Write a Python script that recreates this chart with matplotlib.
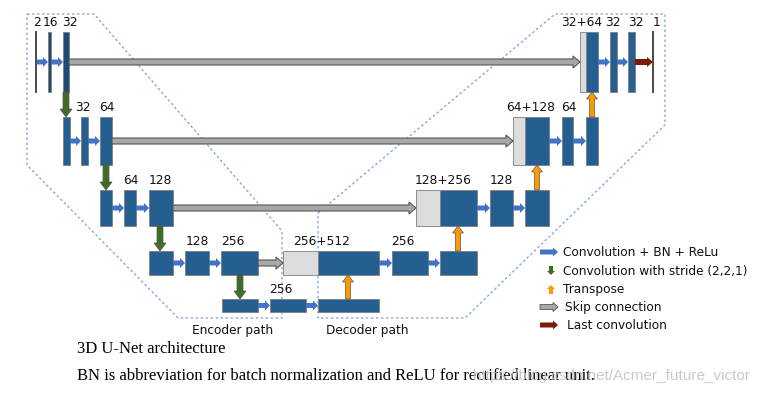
import matplotlib.pyplot as plt
from matplotlib.patches import Polygon, Rectangle

# layout in pixel units of the 758x411 picture (y grows downward)
row_top = [32, 117, 190, 251, 299]
row_bot = [92, 165, 226, 275, 312]

# (row, x0, x1)
dark_blocks = [(0, 48, 51), (0, 63, 69)]
blue_blocks = [(1, 63, 70), (1, 81, 88), (1, 100, 112),
               (2, 100, 112), (2, 124, 136), (2, 149, 173),
               (3, 149, 173), (3, 185, 209), (3, 221, 258),
               (4, 222, 258), (4, 270, 306), (4, 318, 379),
               (3, 318, 379), (3, 392, 428), (3, 440, 477),
               (2, 440, 477), (2, 490, 513), (2, 525, 549),
               (1, 525, 549), (1, 562, 573), (1, 586, 598),
               (0, 586, 598), (0, 610, 617), (0, 628, 635)]
concat_blocks = [(3, 283, 318), (2, 416, 440), (1, 513, 525), (0, 580, 586)]
thin_lines = [(0, 36), (0, 653)]

# channel labels: text, x centre, row
labels = [("2", 37, 0), ("16", 50, 0), ("32", 70, 0),
          ("32+64", 582, 0), ("32", 613, 0), ("32", 636, 0), ("1", 657, 0),
          ("32", 83, 1), ("64", 107, 1), ("64+128", 531, 1), ("64", 569, 1),
          ("64", 131, 2), ("128", 160, 2), ("128+256", 443, 2), ("128", 501, 2),
          ("128", 197, 3), ("256", 233, 3), ("256+512", 322, 3), ("256", 403, 3),
          ("256", 281, 4)]

# arrows: (row, x_from, x_to)
conv_arrows = [(0, 37, 48), (0, 51, 63), (0, 598, 610), (0, 617, 628),
               (1, 70, 81), (1, 88, 100), (1, 549, 562), (1, 573, 586),
               (2, 112, 124), (2, 136, 149), (2, 477, 490), (2, 513, 525),
               (3, 173, 185), (3, 209, 221), (3, 379, 392), (3, 428, 440),
               (4, 258, 270), (4, 306, 318)]
last_arrow = [(0, 635, 653)]
skip_arrows = [(0, 69, 580), (1, 112, 513), (2, 173, 416), (3, 258, 283)]
# vertical: (x, from row bottom -> next row top) / (x, row top -> previous row bottom)
down_arrows = [(66, 0), (106, 1), (160, 2), (240, 3)]
up_arrows = [(592, 1), (537, 2), (458, 3), (348, 4)]

legend_items = ["Convolution + BN + ReLu", "Convolution with stride (2,2,1)",
                "Transpose", "Skip connection", "Last convolution"]
legend_y = [252, 271, 289, 307, 325]

encoder_outline = [(27, 14), (94, 14), (282, 231), (282, 318), (178, 318), (27, 165)]
decoder_outline = [(318, 213), (555, 14), (665, 14), (665, 125), (465, 318), (318, 318)]

BLUE = "#255e91"
DARK = "#1f4c77"
LGRAY = "#dcdcdc"
C_CONV = "#4472c4"
C_DOWN = "#3f6b22"
C_UP = "#ff9900"
C_SKIP = "#a8a8a8"
C_LAST = "#7b1c00"


def harrow(ax, x0, x1, y, shaft, head_w, head_l, fc, ec="none", lw=0.6):
    pts = [(x0, y - shaft / 2), (x1 - head_l, y - shaft / 2), (x1 - head_l, y - head_w / 2),
           (x1, y), (x1 - head_l, y + head_w / 2), (x1 - head_l, y + shaft / 2), (x0, y + shaft / 2)]
    ax.add_patch(Polygon(pts, closed=True, fc=fc, ec=ec, lw=lw, zorder=4))


def varrow(ax, x, y0, y1, shaft, head_w, head_l, fc, ec="none", lw=0.6):
    s = 1 if y1 > y0 else -1
    pts = [(x - shaft / 2, y0), (x - shaft / 2, y1 - s * head_l), (x - head_w / 2, y1 - s * head_l),
           (x, y1), (x + head_w / 2, y1 - s * head_l), (x + shaft / 2, y1 - s * head_l), (x + shaft / 2, y0)]
    ax.add_patch(Polygon(pts, closed=True, fc=fc, ec=ec, lw=lw, zorder=4))


fig = plt.figure(figsize=(7.58, 4.11), dpi=100)
ax = fig.add_axes([0, 0, 1, 1])
ax.set_xlim(0, 758)
ax.set_ylim(411, 0)
ax.axis("off")

for outline in (encoder_outline, decoder_outline):
    ax.add_patch(Polygon(outline, closed=True, fill=False, ec="#7b9fdc", lw=0.9,
                         linestyle=(0, (2, 2)), zorder=1))


def block(r, x0, x1, color):
    ax.add_patch(Rectangle((x0, row_top[r]), x1 - x0, row_bot[r] - row_top[r],
                           fc=color, ec="#7f7f7f", lw=0.6, zorder=3))


for r, x0, x1 in dark_blocks:
    block(r, x0, x1, DARK)
for r, x0, x1 in blue_blocks:
    block(r, x0, x1, BLUE)
for r, x0, x1 in concat_blocks:
    block(r, x0, x1, LGRAY)
for r, x in thin_lines:
    ax.plot([x, x], [row_top[r], row_bot[r]], color="#4a4a4a", lw=1.4, zorder=3)

lab_font = dict(family="DejaVu Sans", fontsize=8.8, color="#111111", ha="center", va="center")
for txt, x, r in labels:
    ax.text(x, row_top[r] - 10, txt, **lab_font)

for r, x0, x1 in skip_arrows:
    y = (row_top[r] + row_bot[r]) / 2
    harrow(ax, x0, x1, y, 6, 12, 7, C_SKIP, ec="#555555", lw=0.8)
for r, x0, x1 in conv_arrows:
    y = (row_top[r] + row_bot[r]) / 2
    harrow(ax, x0, x1, y, 5, 10, 5, C_CONV)
for r, x0, x1 in last_arrow:
    y = (row_top[r] + row_bot[r]) / 2
    harrow(ax, x0, x1, y, 6, 10, 6, C_LAST)
for x, r in down_arrows:
    varrow(ax, x, row_bot[r], row_top[r + 1], 6, 12, 8, C_DOWN, ec="#555555", lw=0.5)
for x, r in up_arrows:
    varrow(ax, x, row_top[r], row_bot[r - 1], 5, 11, 7, C_UP, ec="#555555", lw=0.5)

ax.text(233, 330, "Encoder path", family="DejaVu Sans", fontsize=8.7, color="#111111",
        ha="center", va="center")
ax.text(367, 330, "Decoder path", family="DejaVu Sans", fontsize=8.7, color="#111111",
        ha="center", va="center")

# legend
harrow(ax, 540, 558, legend_y[0], 5, 9, 5, C_CONV)
varrow(ax, 551, legend_y[1] - 5, legend_y[1] + 4, 4, 8, 4, C_DOWN)
varrow(ax, 551, legend_y[2] + 5, legend_y[2] - 4, 4, 8, 4, C_UP)
harrow(ax, 540, 558, legend_y[3], 5, 9, 5, C_SKIP, ec="#555555", lw=0.6)
harrow(ax, 540, 558, legend_y[4], 5, 9, 5, C_LAST)
legend_x = [563, 563, 563, 565, 567]
for txt, x, y in zip(legend_items, legend_x, legend_y):
    ax.text(x, y, txt, family="DejaVu Sans", fontsize=8.7, color="#111111", ha="left", va="center")

ax.text(77, 349, "3D U-Net architecture", family="Liberation Serif", fontsize=12,
        color="black", ha="left", va="center")
ax.text(77, 376, "BN is abbreviation for batch normalization and ReLU for rectified linear unit.",
        family="Liberation Serif", fontsize=12, color="black", ha="left", va="center")
ax.text(750, 376, "https://blog.csdn.net/Acmer_future_victor", family="Liberation Sans",
        fontsize=11, color="#c4c4c4", ha="right", va="center", alpha=0.9, zorder=5)

fig.savefig("out.png", dpi=100)
